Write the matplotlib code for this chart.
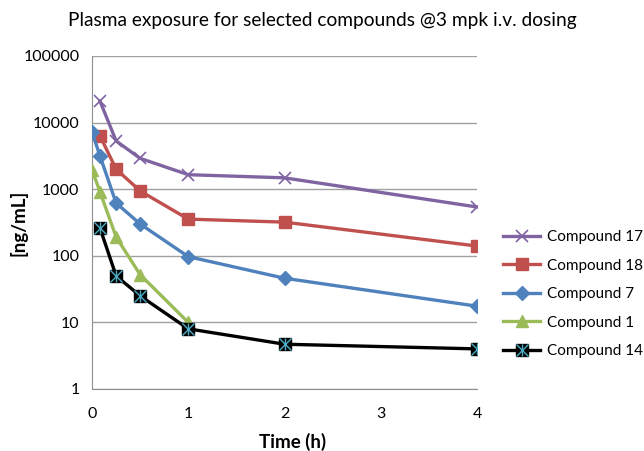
import matplotlib.pyplot as plt
from matplotlib.lines import Line2D

plt.rcParams['font.family'] = ['Lato', 'DejaVu Sans']

# time points (h)
t17 = [0.083, 0.25, 0.5, 1, 2, 4]
c17 = [21000, 5300, 2900, 1650, 1480, 540]
t18 = [0.083, 0.25, 0.5, 1, 2, 4]
c18 = [6300, 2000, 940, 355, 320, 140]
t7 = [0, 0.083, 0.25, 0.5, 1, 2, 4]
c7 = [7200, 3150, 620, 300, 97, 46, 17.5]
t1 = [0, 0.083, 0.25, 0.5, 1]
c1 = [1950, 910, 192, 52, 10]
t14 = [0.083, 0.25, 0.5, 1, 2, 4]
c14 = [260, 50, 25, 8, 4.7, 4.0]

xticks = [0, 1, 2, 3, 4]
yticks = [1, 10, 100, 1000, 10000, 100000]
ylabels = ['1', '10', '100', '1000', '10000', '100000']

fig = plt.figure(figsize=(6.44, 4.51), dpi=100, facecolor='white')
ax = fig.add_axes([0.1429, 0.1375, 0.5978, 0.7384])

lw = 2.4
ax.plot(t17, c17, color='#8064A2', lw=lw, marker='x', ms=9, mew=1.2, zorder=3)
ax.plot(t18, c18, color='#C0504D', lw=lw, marker='s', ms=9, zorder=3)
ax.plot(t7, c7, color='#4F81BD', lw=lw, marker='D', ms=7, zorder=3)
ax.plot(t1, c1, color='#9BBB59', lw=lw, marker='^', ms=9, zorder=3)
ax.plot(t14, c14, color='black', lw=lw, marker='s', ms=9, zorder=3)
ax.plot(t14, c14, ls='none', marker='x', ms=8, mew=1.0, color='#4BACC6', zorder=4)
ax.plot(t14, c14, ls='none', marker='|', ms=9, mew=1.0, color='#4BACC6', zorder=4)

ax.set_yscale('log')
ax.set_xlim(0, 4)
ax.set_ylim(1, 100000)
ax.set_xticks(xticks)
ax.set_yticks(yticks)
ax.set_yticklabels(ylabels)
ax.minorticks_off()
ax.tick_params(length=0, labelsize=11.5)
ax.tick_params(axis='x', pad=13)
ax.tick_params(axis='y', pad=9)
ax.grid(axis='y', color='#A0A0A0', lw=1)
ax.set_axisbelow(True)
for s in ['top', 'right']:
    ax.spines[s].set_visible(False)
for s in ['left', 'bottom']:
    ax.spines[s].set_color('#909090')

fig.suptitle('Plasma exposure for selected compounds @3 mpk i.v. dosing',
             x=0.5, y=0.955, va='center', fontsize=13.8)
ax.set_xlabel('Time (h)', fontsize=13.5, fontweight='bold', va='center')
ax.xaxis.set_label_coords(0.522, -0.159)
ax.set_ylabel('[ng/mL]', fontsize=13.5, fontweight='bold', va='center')
ax.yaxis.set_label_coords(-0.192, 0.5)

# legend
h17 = Line2D([], [], color='#8064A2', lw=lw, marker='x', ms=9, mew=1.2)
h18 = Line2D([], [], color='#C0504D', lw=lw, marker='s', ms=9)
h7 = Line2D([], [], color='#4F81BD', lw=lw, marker='D', ms=7)
h1 = Line2D([], [], color='#9BBB59', lw=lw, marker='^', ms=9)
h14a = Line2D([], [], color='black', lw=lw, marker='s', ms=9)
h14b = Line2D([], [], ls='none', marker='x', ms=8, mew=1.0, color='#4BACC6')
h14c = Line2D([], [], ls='none', marker='|', ms=9, mew=1.0, color='#4BACC6')
fig.legend([h17, h18, h7, h1, (h14a, h14b, h14c)],
           ['Compound 17', 'Compound 18', 'Compound 7', 'Compound 1', 'Compound 14'],
           loc='upper left', bbox_to_anchor=(0.76, 0.52), frameon=False,
           fontsize=11, handlelength=2.4, labelspacing=0.95, handletextpad=0.45)

fig.savefig('out.png', dpi=100)
